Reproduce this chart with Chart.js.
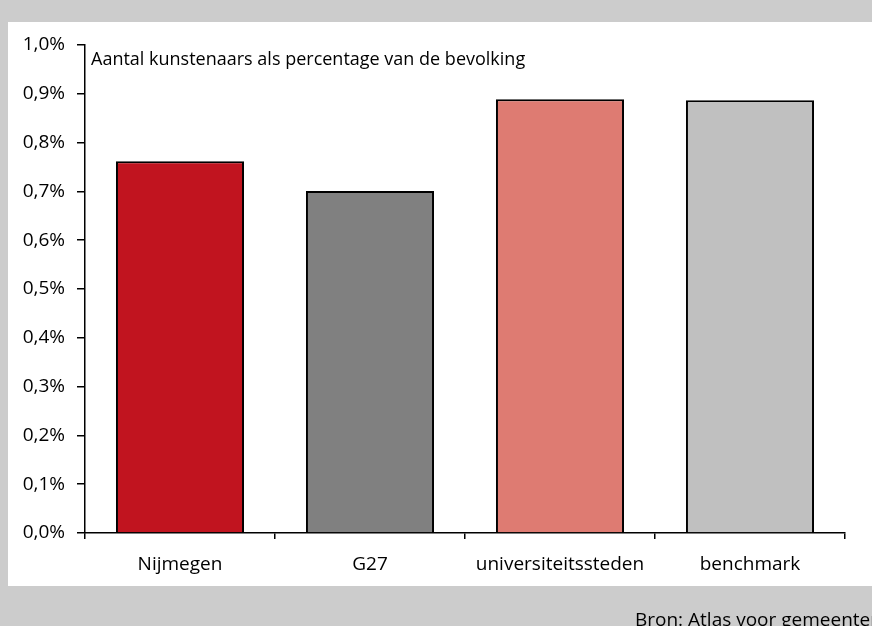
<!DOCTYPE html>
<html>
<head>
<meta charset="utf-8">
<script src="https://cdn.jsdelivr.net/npm/chart.js@4"></script>
<style>
  html, body { margin: 0; padding: 0; background: #cccccc; }
  #wrap { width: 872px; height: 626px; position: relative; }
</style>
</head>
<body>
<div id="wrap"><canvas id="c" width="872" height="626"></canvas></div>
<script>
const categories = ['Nijmegen', 'G27', 'universiteitssteden', 'benchmark'];
const values = [0.762, 0.701, 0.889, 0.887];
const barColors = ['#c1141f', '#808080', '#de7b72', '#c0c0c0'];
const yTicks = [0, 0.1, 0.2, 0.3, 0.4, 0.5, 0.6, 0.7, 0.8, 0.9, 1.0];
const titleText = 'Aantal kunstenaars als percentage van de bevolking';
const sourceText = 'Bron: Atlas voor gemeenten';

const FONT = '"Open Sans", "DejaVu Sans", sans-serif';

const framePlugin = {
  id: 'frame',
  beforeDraw(chart) {
    const ctx = chart.ctx;
    ctx.save();
    ctx.fillStyle = '#cccccc';
    ctx.fillRect(0, 0, chart.width, chart.height);
    ctx.fillStyle = '#ffffff';
    ctx.fillRect(8, 22, 864, 564);
    ctx.restore();
  },
  afterDraw(chart) {
    const ctx = chart.ctx;
    const a = chart.chartArea;
    ctx.save();
    ctx.fillStyle = '#000';
    ctx.textBaseline = 'alphabetic';
    ctx.textAlign = 'left';
    ctx.font = '18px ' + FONT;
    ctx.fillText(titleText, a.left + 6, a.top + 20);
    ctx.font = '19px ' + FONT;
    ctx.fillText(sourceText, 635, 626);
    ctx.restore();
  }
};

new Chart(document.getElementById('c'), {
  type: 'bar',
  data: {
    labels: categories,
    datasets: [{
      data: values,
      backgroundColor: barColors,
      borderColor: '#000',
      borderWidth: 2,
      borderSkipped: 'bottom',
      categoryPercentage: 1,
      barPercentage: 0.674
    }]
  },
  options: {
    responsive: false,
    animation: false,
    devicePixelRatio: 1,
    layout: { padding: { top: 45, right: 27, bottom: 0, left: 0 } },
    plugins: { legend: { display: false }, tooltip: { enabled: false }, title: { display: false } },
    scales: {
      x: {
        offset: true,
        afterFit(s) { s.height = 93; },
        grid: { offset: true, drawOnChartArea: false, drawTicks: true, tickLength: 6, color: '#000', lineWidth: 1.5 },
        border: { display: true, color: '#000', width: 1.5 },
        ticks: { color: '#000', font: { family: FONT, size: 19 }, padding: 14, maxRotation: 0, autoSkip: false }
      },
      y: {
        min: 0,
        max: 1.0,
        afterFit(s) { s.width = 85; },
        afterBuildTicks(s) { s.ticks = yTicks.map(v => ({ value: v })); },
        grid: { drawOnChartArea: false, drawTicks: true, tickLength: 8, color: '#000', lineWidth: 1.5 },
        border: { display: true, color: '#000', width: 1.5 },
        ticks: {
          color: '#000',
          font: { family: FONT, size: 19 },
          padding: 12,
          callback: (v) => Number(v).toFixed(1).replace('.', ',') + '%'
        }
      }
    }
  },
  plugins: [framePlugin]
});
</script>
</body>
</html>
